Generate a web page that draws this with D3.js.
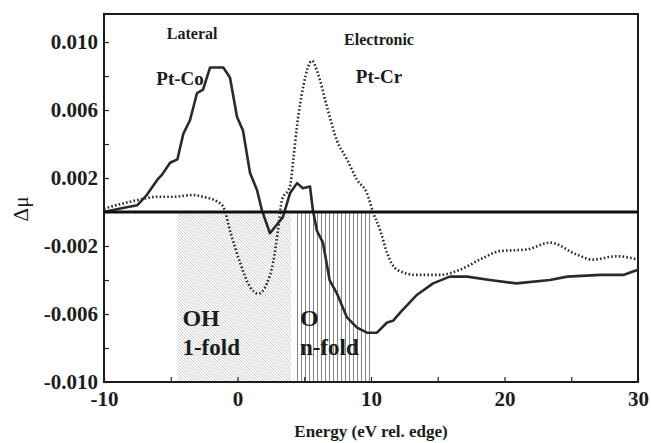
<!DOCTYPE html>
<html>
<head>
<meta charset="utf-8">
<script src="https://cdn.jsdelivr.net/npm/d3@7"></script>
<style>
  body { margin: 0; background: #fff; }
  svg text { font-family: "Liberation Serif", "Times New Roman", serif; fill: #1c1c1c; }
</style>
</head>
<body>
<div id="app"></div>
<script>
'use strict'

// Pt-Co (lateral), solid line
const coEnergy = [-10, -8.6, -7.5, -6.8, -6.0, -5.65, -5.05, -4.5, -4.06, -3.56, -3.03, -2.58, -2.06, -1.06, -0.56, -0.04, 0.41, 0.94, 1.46, 1.83, 2.43, 3.4, 3.93, 4.46, 4.9, 5.43, 5.65, 5.95, 6.4, 6.9, 7.45, 8.2, 8.95, 9.7, 10.45, 11.2, 11.65, 12.2, 13.4, 14.65, 15.9, 17.2, 18.9, 20.9, 23.4, 24.7, 27.2, 28.9, 30]
const coMu = [0, 0.00024, 0.0004, 0.001, 0.0019, 0.0022, 0.0029, 0.0031, 0.0046, 0.0054, 0.007, 0.0072, 0.0085, 0.0085, 0.0079, 0.0056, 0.0048, 0.0023, 0.0013, 0.0001, -0.00125, -0.0003, 0.0011, 0.0017, 0.0014, 0.0015, 0.0001, -0.0011, -0.0018, -0.004, -0.0048, -0.0062, -0.0068, -0.0071, -0.0071, -0.0065, -0.0064, -0.0059, -0.0049, -0.0042, -0.0038, -0.0038, -0.004, -0.0042, -0.004, -0.0038, -0.0037, -0.0037, -0.0034]

// Pt-Cr (electronic), dotted line
const crEnergy = [-10, -8.6, -7.5, -6, -4.8, -3.3, -2.6, -1.5, -1.06, -0.56, 0.2, 0.94, 1.56, 2.2, 2.66, 3.03, 3.33, 3.93, 4.18, 4.45, 4.93, 5.58, 6.0, 6.7, 7.45, 8.2, 8.95, 9.7, 10.15, 10.7, 11.2, 11.95, 13.4, 15.15, 16.65, 18.4, 19.65, 21.7, 23.4, 25.4, 26.6, 28.4, 30]
const crMu = [0.0002, 0.0005, 0.0007, 0.0009, 0.0009, 0.001, 0.0009, 0.0006, 0.0003, -0.0011, -0.003, -0.0044, -0.0048, -0.0042, -0.003, -0.0011, 0.0007, 0.0015, 0.0031, 0.005, 0.0074, 0.0089, 0.0082, 0.0062, 0.0042, 0.0031, 0.0019, 0.0011, 0, -0.0011, -0.0024, -0.0034, -0.0037, -0.0037, -0.0034, -0.0027, -0.0023, -0.0022, -0.0018, -0.0025, -0.0028, -0.0026, -0.0028]

// shaded adsorption regions
const regionNames = ['OH', 'O']
const regionSub = ['1-fold', 'n-fold']
const regionFrom = [-4.5, 4.3]
const regionTo = [4.0, 10.05]

const xTicks = [-10, -5, 0, 5, 10, 15, 20, 25, 30]
const xLabels = [-10, 0, 10, 20, 30]
const yTicks = [-0.010, -0.008, -0.006, -0.004, -0.002, 0, 0.002, 0.004, 0.006, 0.008, 0.010]
const yLabels = ['-0.010', '-0.006', '-0.002', '0.002', '0.006', '0.010']

const width = 651
const height = 443
const margin = {top: 14, right: 13, bottom: 61, left: 104}
const w = width - margin.left - margin.right
const h = height - margin.top - margin.bottom

const svg = d3.select('#app').append('svg')
              .attr('width', width)
              .attr('height', height)

// patterns for the two regions
const defs = svg.append('defs')
const diag = defs.append('pattern')
                 .attr('id', 'diag')
                 .attr('patternUnits', 'userSpaceOnUse')
                 .attr('width', 3).attr('height', 3)
diag.append('path')
    .attr('d', 'M-1,-1 L4,4 M-1,2 L1,4 M2,-1 L4,1')
    .attr('stroke', '#b4b4b4')
    .attr('stroke-width', 0.7)
const vert = defs.append('pattern')
                 .attr('id', 'vert')
                 .attr('patternUnits', 'userSpaceOnUse')
                 .attr('width', 4).attr('height', 4)
vert.append('line')
    .attr('x1', 1.5).attr('x2', 1.5).attr('y1', 0).attr('y2', 4)
    .attr('stroke', '#777')
    .attr('stroke-width', 0.9)

const g = svg.append('g')
             .attr('transform', 'translate(' + margin.left + ',' + margin.top + ')')

const x = d3.scaleLinear().domain([-10, 30]).range([0, w])
const y = d3.scaleLinear().domain([-0.010, 0.01165]).range([h, 0])

// regions
g.selectAll('rect.region')
 .data(regionNames)
 .enter()
 .append('rect')
 .attr('class', 'region')
 .attr('x', (d, i) => x(regionFrom[i]))
 .attr('width', (d, i) => x(regionTo[i]) - x(regionFrom[i]))
 .attr('y', y(0))
 .attr('height', y(-0.010) - y(0))
 .attr('fill', (d, i) => i === 0 ? 'url(#diag)' : 'url(#vert)')

// region labels
g.selectAll('text.rname')
 .data(regionNames)
 .enter()
 .append('text')
 .attr('x', (d, i) => x(regionFrom[i]) + 5)
 .attr('y', y(-0.0067))
 .attr('font-size', 24)
 .attr('font-weight', 'bold')
 .text(d => d)
g.selectAll('text.rsub')
 .data(regionSub)
 .enter()
 .append('text')
 .attr('x', (d, i) => x(regionFrom[i]) + 5)
 .attr('y', y(-0.0084))
 .attr('font-size', 23)
 .attr('font-weight', 'bold')
 .text(d => d)

// axes
const xAxis = d3.axisBottom(x)
                .tickValues(xTicks)
                .tickSize(-5)
                .tickFormat(d => xLabels.includes(d) ? d : '')
const gx = g.append('g')
            .attr('transform', 'translate(0,' + h + ')')
            .call(xAxis)
gx.select('.domain').remove()
gx.selectAll('line').attr('stroke', '#222').attr('stroke-width', 1.2)
gx.selectAll('text')
  .attr('y', 9)
  .attr('font-size', 21)
  .attr('font-weight', 'bold')
  .attr('font-family', '"Liberation Serif", serif')
  .attr('fill', '#1c1c1c')

const yAxis = d3.axisLeft(y)
                .tickValues(yTicks)
                .tickSize(-5)
                .tickFormat(d => {
                  const s = d3.format('.3f')(d).replace('−', '-')
                  return yLabels.includes(s) ? s : ''
                })
const gy = g.append('g').call(yAxis)
gy.select('.domain').remove()
gy.selectAll('line').attr('stroke', '#222').attr('stroke-width', 1.2)
gy.selectAll('text')
  .attr('x', -6)
  .attr('font-size', 21)
  .attr('font-weight', 'bold')
  .attr('font-family', '"Liberation Serif", serif')
  .attr('fill', '#1c1c1c')

// frame
g.append('rect')
 .attr('width', w).attr('height', h)
 .attr('fill', 'none')
 .attr('stroke', '#1c1c1c')
 .attr('stroke-width', 2)

// curves
const line = d3.line().x(d => x(d[0])).y(d => y(d[1]))
g.append('path')
 .datum(d3.zip(crEnergy, crMu))
 .attr('d', line.curve(d3.curveMonotoneX))
 .attr('fill', 'none')
 .attr('stroke', '#2a2a2a')
 .attr('stroke-width', 2.6)
 .attr('stroke-dasharray', '1.6,2.2')

g.append('path')
 .datum(d3.zip(coEnergy, coMu))
 .attr('d', line.curve(d3.curveLinear))
 .attr('fill', 'none')
 .attr('stroke', '#2a2a2a')
 .attr('stroke-width', 2.6)
 .attr('stroke-linejoin', 'round')

// zero line
g.append('line')
 .attr('x1', 0).attr('x2', w)
 .attr('y1', y(0)).attr('y2', y(0))
 .attr('stroke', '#111')
 .attr('stroke-width', 3)

// annotations
const note = function (text, ex, ey, size) {
  g.append('text')
   .attr('x', x(ex)).attr('y', y(ey))
   .attr('text-anchor', 'middle')
   .attr('font-size', size)
   .attr('font-weight', 'bold')
   .text(text)
}
note('Lateral', -3.4, 0.0102, 16)
note('Pt-Co', -4.3, 0.0075, 19)
note('Electronic', 10.6, 0.0098, 16)
note('Pt-Cr', 10.6, 0.0076, 19)

// axis titles
svg.append('text')
   .attr('x', margin.left + w / 2)
   .attr('y', 437)
   .attr('text-anchor', 'middle')
   .attr('font-size', 17)
   .attr('font-weight', 'bold')
   .text('Energy (eV rel. edge)')

svg.append('text')
   .attr('transform', 'translate(28,209) rotate(-90)')
   .attr('text-anchor', 'middle')
   .attr('font-size', 21)
   .attr('font-family', '"DejaVu Serif", serif')
   .text('Δμ')
</script>
</body>
</html>
